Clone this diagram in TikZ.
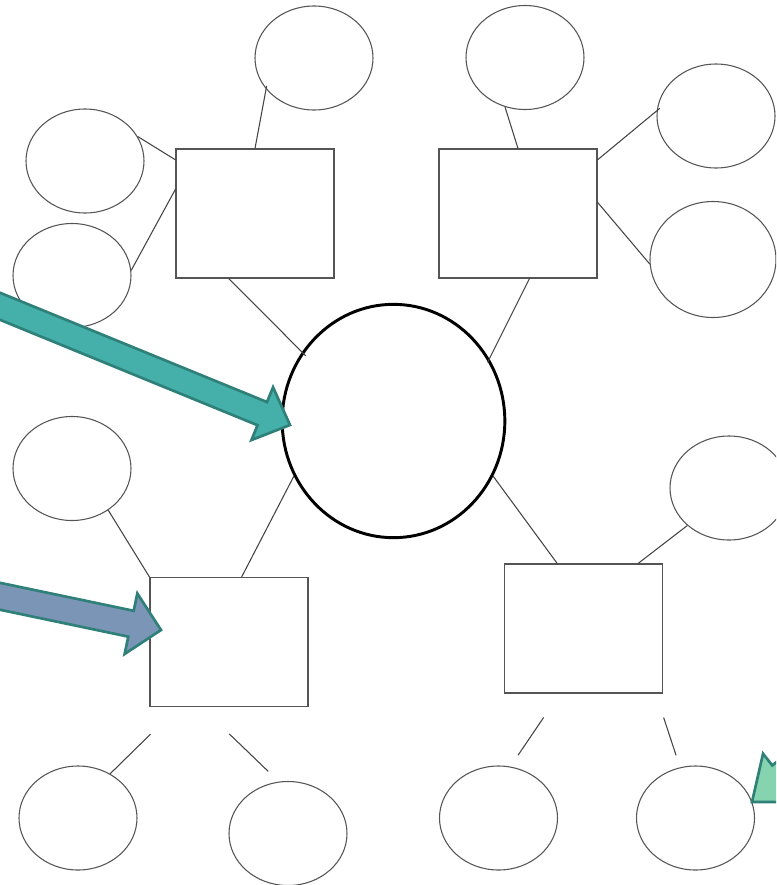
\documentclass[tikz,border=0pt]{standalone}
\usepackage{tikz}
\usetikzlibrary{calc,shapes.geometric}
\definecolor{outline}{HTML}{555555}
\definecolor{wire}{HTML}{444444}
\definecolor{tealfill}{HTML}{45AFA9}
\definecolor{tealedge}{HTML}{2E8079}
\definecolor{slatefill}{HTML}{7B95B7}
\definecolor{mintfill}{HTML}{86D3AF}

% block arrow: style, tail, tip, half shaft, half head, head length
\newcommand{\blockarrow}[6]{%
  \coordinate (ba-base) at ($(#3)!#6!(#2)$);
  \draw[#1] ($(#2)!#4!90:(#3)$) -- ($(ba-base)!#4!90:(#3)$)
    -- ($(ba-base)!#5!90:(#3)$) -- (#3)
    -- ($(ba-base)!#5!-90:(#3)$) -- ($(ba-base)!#4!-90:(#3)$)
    -- ($(#2)!#4!-90:(#3)$) -- cycle;}

\begin{document}
\begin{tikzpicture}[x=0.75pt, y=-0.75pt,
  box/.style={draw=outline, line width=0.8pt, minimum width=118.5pt,
    minimum height=96.75pt, inner sep=0pt},
  bubble/.style={ellipse, draw=outline, line width=0.8pt, minimum width=88.5pt,
    minimum height=78pt, inner sep=0pt},
  link/.style={draw=wire, line width=0.8pt},
  pointer/.style={draw=tealedge, line width=2pt, line join=miter}]
  \useasboundingbox (0,0) rectangle (776,885);
  \clip (0,0) rectangle (776,885);

  % centre
  \node[ellipse, draw=black, line width=2.2pt, minimum width=167pt,
    minimum height=175pt, inner sep=0pt] (hub) at (393.5,421) {};

  % boxes
  \node[box] (boxNW) at (255,213.5) {};
  \node[box] (boxNE) at (518,213.5) {};
  \node[box] (boxSW) at (229,642) {};
  \node[box] (boxSE) at (583.5,628.5) {};

  % bubbles
  \node[bubble] (nwTop) at (314,58) {};
  \node[bubble] (nwUp)  at (85,161) {};
  \node[bubble] (nwLow) at (72,275.5) {};
  \node[bubble] (neTop) at (525,57.5) {};
  \node[bubble] (neUp)  at (716,116) {};
  \node[bubble, minimum width=94.5pt, minimum height=87pt] (neLow) at (713,259.5) {};
  \node[bubble] (swSide) at (72,468.5) {};
  \node[bubble] (seSide) at (729,488) {};
  \node[bubble] (swLeft)  at (78,818) {};
  \node[bubble] (swRight) at (288,833.5) {};
  \node[bubble] (seLeft)  at (498.5,818) {};
  \node[bubble] (seRight) at (695.5,818) {};

  % links
  \draw[link, shorten >=-2.5pt] (boxNW.north) -- (nwTop.213);
  \draw[link] (nwUp.25) -- (boxNW.146);
  \draw[link] (nwLow.5) -- (boxNW.163);
  \draw[link, shorten >=-4pt] (boxNW.248) -- (hub.143);
  \draw[link] (boxNE.north) -- (neTop.248);
  \draw[link, shorten >=-3pt] (boxNE.34) -- (neUp.175);
  \draw[link] (boxNE.8) -- (neLow.184);
  \draw[link, shorten >=-3pt] (boxNE.280) -- (hub.33);
  \draw[link] (swSide.311) -- (boxSW.north west);
  \draw[link] (hub.209) -- (boxSW.79);
  \draw[link] (hub.331) -- (boxSE.112);
  \draw[link] (boxSE.50) -- (seSide.222);
  \draw[link, shorten <=29pt] (boxSW.232) -- (swLeft.54);
  \draw[link, shorten <=29pt, shorten >=11pt] (boxSW.247) -- (swRight.100);
  \draw[link, shorten <=21.6pt, shorten >=10.3pt] (boxSE.250) -- (seLeft.77);
  \draw[link, shorten <=19pt, shorten >=9.5pt] (boxSE.318) -- (seRight.107);

  % pointers
  \coordinate (tealTail) at (-30,294);
  \coordinate (tealTip) at (290,425);
  \coordinate (slateTail) at (-30,590);
  \coordinate (slateTip) at (161,630);
  \coordinate (mintTail) at (830,740);
  \coordinate (mintTip) at (752,802);
  \blockarrow{pointer, fill=tealfill}{tealTail}{tealTip}{9.4pt}{21.4pt}{22.5pt}
  \blockarrow{pointer, fill=slatefill}{slateTail}{slateTip}{9.9pt}{23.2pt}{23pt}
  \blockarrow{pointer, fill=mintfill}{mintTail}{mintTip}{12pt}{23.2pt}{29pt}
\end{tikzpicture}
\end{document}
